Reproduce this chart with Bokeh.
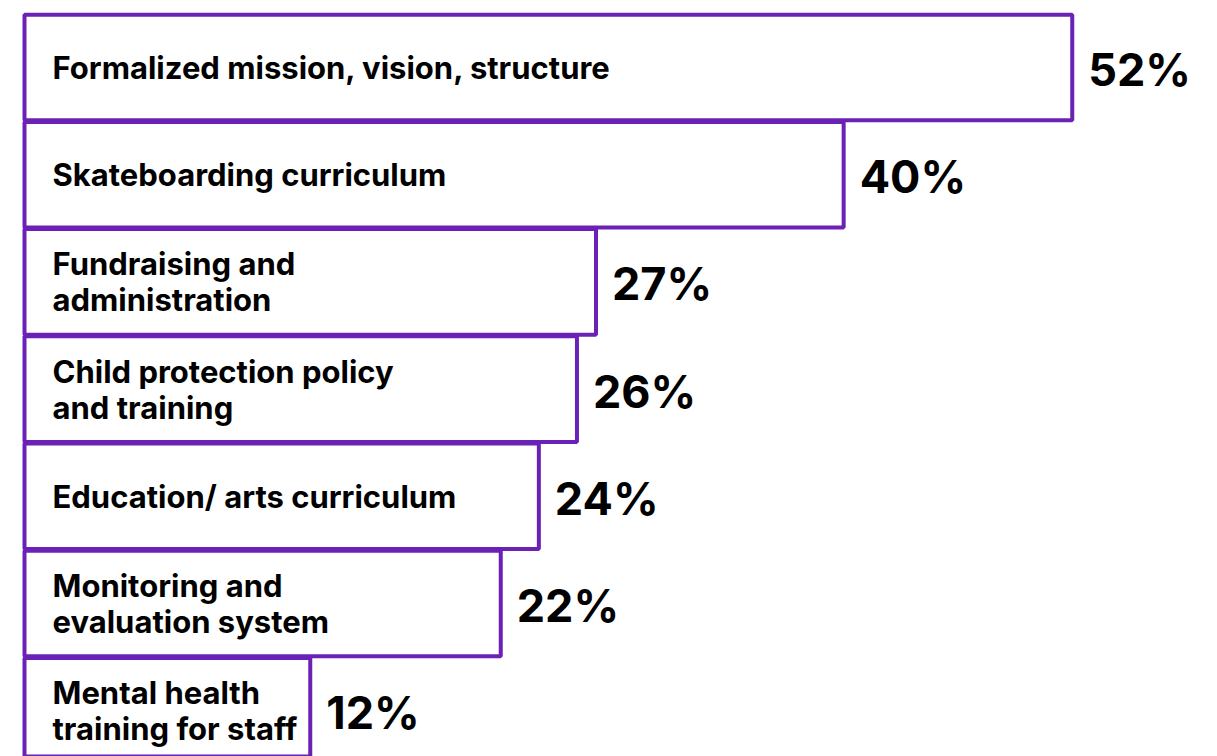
from bokeh.plotting import figure
from bokeh.models import Range1d, ColumnDataSource
from bokeh.core.properties import value
from bokeh.embed import file_html
from bokeh.resources import INLINE

categories = [
    "Formalized mission, vision, structure",
    "Skateboarding curriculum",
    "Fundraising and\nadministration",
    "Child protection policy\nand training",
    "Education/ arts curriculum",
    "Monitoring and\nevaluation system",
    "Mental health\ntraining for staff",
]
values = [52, 40, 27, 26, 24, 22, 12]
value_labels = ["52%", "40%", "27%", "26%", "24%", "22%", "12%"]

PURPLE = "#6b21b5"
W, H = 1201, 756
scale = 19.05   # px per percent
baseline = -3.0 # bars start at the left edge of the frame
x_left = 24     # px where the baseline sits
pitch = 107.2
top_center = 67

src = ColumnDataSource(dict(
    y=list(range(len(categories))),
    v=values,
    cat=categories,
    lab=value_labels,
))

xs = baseline - x_left / scale
p = figure(width=W, height=H, output_backend="svg", toolbar_location=None,
           x_range=Range1d(xs, xs + W / scale),
           y_range=Range1d((H - top_center) / pitch, -top_center / pitch),
           min_border=0)
p.axis.visible = False
p.grid.visible = False
p.outline_line_color = None
p.background_fill_color = "white"
p.border_fill_color = "white"

p.hbar(y="y", left=baseline, right="v", height=0.985, source=src,
       fill_color="white", line_color=PURPLE, line_width=4)

p.text(x=baseline, y="y", text="cat", source=src, x_offset=28,
       text_font=value("Inter"), text_font_style="bold", text_font_size="31px",
       text_color="#000000", text_baseline="middle", text_align="left",
       text_line_height=0.97)

p.text(x="v", y="y", text="lab", source=src, x_offset=16, y_offset=2,
       text_font=value("Inter"), text_font_style="bold", text_font_size="45px",
       text_color="#000000", text_baseline="middle", text_align="left")

open("out.html", "w").write(file_html(p, INLINE))
